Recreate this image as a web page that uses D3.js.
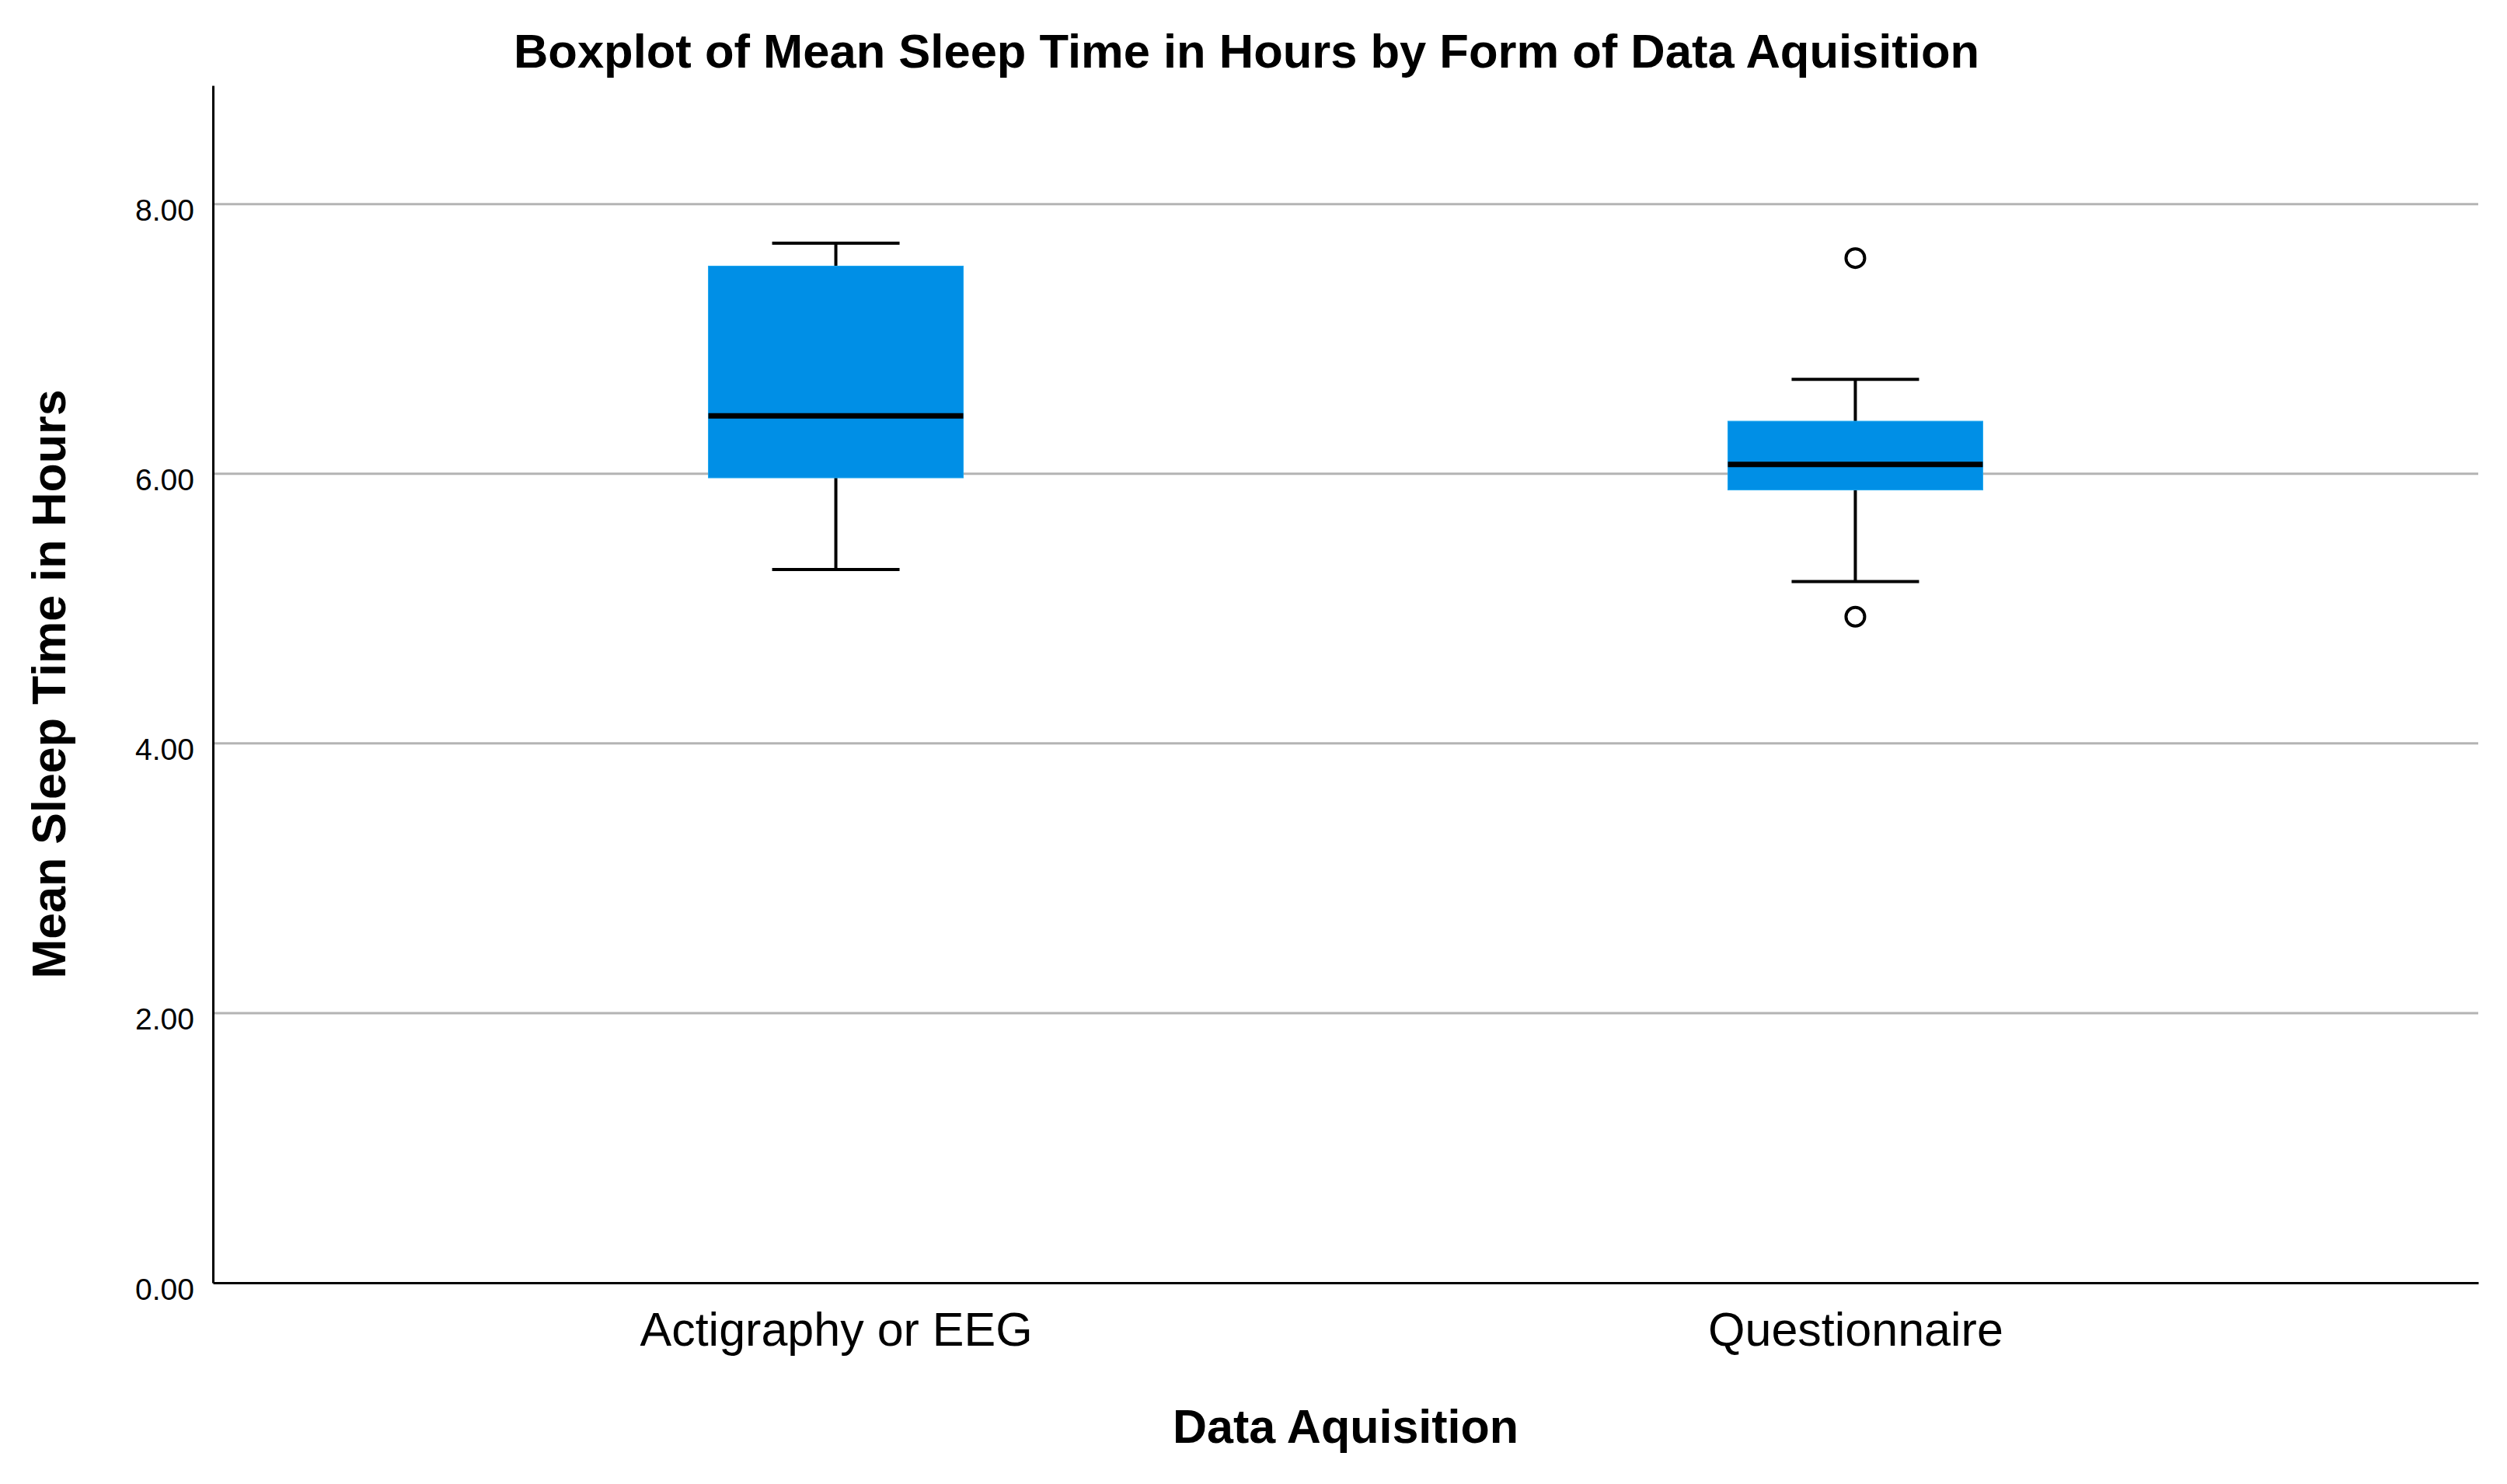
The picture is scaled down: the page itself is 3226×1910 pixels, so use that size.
<!DOCTYPE html>
<html>
<head>
<meta charset="utf-8">
<script src="https://cdn.jsdelivr.net/npm/d3@7"></script>
<style>
  body { margin: 0; background: #fff; }
  text { font-family: "Liberation Sans", Arial, sans-serif; fill: #000; }
</style>
</head>
<body>
<div id="chart"></div>
<script>
// data
const categories = ["Actigraphy or EEG", "Questionnaire"];
const whiskerLow = [5.29, 5.2];
const q1 = [5.97, 5.88];
const median = [6.43, 6.07];
const q3 = [7.54, 6.39];
const whiskerHigh = [7.71, 6.7];
const outliers = [[], [4.94, 7.6]];
const yTicks = [0, 2, 4, 6, 8];

let width = 3226,
  height = 1910;
let margin = { top: 110, right: 37, bottom: 259, left: 274 };

let svg = d3
  .select("#chart")
  .append("svg")
  .attr("width", width)
  .attr("height", height);

let x = d3
  .scalePoint()
  .domain(categories)
  .range([margin.left, width - margin.right])
  .padding(0.611);

let y = d3
  .scaleLinear()
  .domain([0, 8.88])
  .range([height - margin.bottom, margin.top]);

// half widths
let boxW = x.step() * 0.125;
let capW = x.step() * 0.0625;

// gridlines
svg
  .append("g")
  .selectAll("line")
  .data(yTicks.filter((d) => d > 0))
  .enter()
  .append("line")
  .attr("x1", margin.left)
  .attr("x2", width - margin.right)
  .attr("y1", (d) => y(d))
  .attr("y2", (d) => y(d))
  .style("stroke", "#b4b4b4")
  .style("stroke-width", 3);

// axes
let yAxis = svg
  .append("g")
  .attr("transform", `translate(${margin.left},0)`)
  .call(
    d3
      .axisLeft(y)
      .tickValues(yTicks)
      .tickFormat(d3.format(".2f"))
      .tickSize(0)
      .tickSizeOuter(0)
      .tickPadding(24)
  );
yAxis.select(".domain").style("stroke", "#000").style("stroke-width", 3);
yAxis
  .selectAll("text")
  .attr("dy", "0.54em")
  .style("font-size", "39px")
  .style("font-family", '"Liberation Sans", Arial, sans-serif');

let xAxis = svg
  .append("g")
  .attr("transform", `translate(0,${height - margin.bottom})`)
  .call(d3.axisBottom(x).tickSize(0).tickSizeOuter(0).tickPadding(38));
xAxis.select(".domain").style("stroke", "#000").style("stroke-width", 3);
xAxis
  .selectAll("text")
  .style("font-size", "61px")
  .style("font-family", '"Liberation Sans", Arial, sans-serif');

// boxes
let boxes = svg
  .append("g")
  .selectAll("g")
  .data(categories)
  .enter()
  .append("g");

// whisker stems
boxes
  .append("line")
  .attr("x1", (d) => x(d))
  .attr("x2", (d) => x(d))
  .attr("y1", (d, i) => y(whiskerHigh[i]))
  .attr("y2", (d, i) => y(whiskerLow[i]))
  .style("stroke", "#000")
  .style("stroke-width", 4);

// whisker caps
[whiskerLow, whiskerHigh].forEach(function (arr) {
  boxes
    .append("line")
    .attr("x1", (d) => x(d) - capW)
    .attr("x2", (d) => x(d) + capW)
    .attr("y1", (d, i) => y(arr[i]))
    .attr("y2", (d, i) => y(arr[i]))
    .style("stroke", "#000")
    .style("stroke-width", 4);
});

boxes
  .append("rect")
  .attr("x", (d) => x(d) - boxW)
  .attr("width", boxW * 2)
  .attr("y", (d, i) => y(q3[i]))
  .attr("height", (d, i) => y(q1[i]) - y(q3[i]))
  .style("fill", "#008fe6")
  .style("stroke", "#1aa6f0")
  .style("stroke-width", 1);

boxes
  .append("line")
  .attr("x1", (d) => x(d) - boxW)
  .attr("x2", (d) => x(d) + boxW)
  .attr("y1", (d, i) => y(median[i]))
  .attr("y2", (d, i) => y(median[i]))
  .style("stroke", "#000")
  .style("stroke-width", 7);

// outliers
boxes
  .selectAll("circle")
  .data((d, i) => outliers[i].map((v) => ({ cat: d, v: v })))
  .enter()
  .append("circle")
  .attr("cx", (d) => x(d.cat))
  .attr("cy", (d) => y(d.v))
  .attr("r", 12)
  .style("fill", "#fff")
  .style("stroke", "#000")
  .style("stroke-width", 4);

// titles
svg
  .append("text")
  .attr("x", 1604)
  .attr("y", 87)
  .attr("text-anchor", "middle")
  .style("font-size", "61.5px")
  .style("font-weight", "bold")
  .text("Boxplot of Mean Sleep Time in Hours by Form of Data Aquisition");

svg
  .append("text")
  .attr("x", (margin.left + width - margin.right) / 2)
  .attr("y", 1857)
  .attr("text-anchor", "middle")
  .style("font-size", "61px")
  .style("font-weight", "bold")
  .text("Data Aquisition");

svg
  .append("text")
  .attr("transform", `translate(84,${(y(0) + y(8.88)) / 2}) rotate(-90)`)
  .attr("text-anchor", "middle")
  .style("font-size", "61px")
  .style("font-weight", "bold")
  .text("Mean Sleep Time in Hours");
</script>
</body>
</html>
